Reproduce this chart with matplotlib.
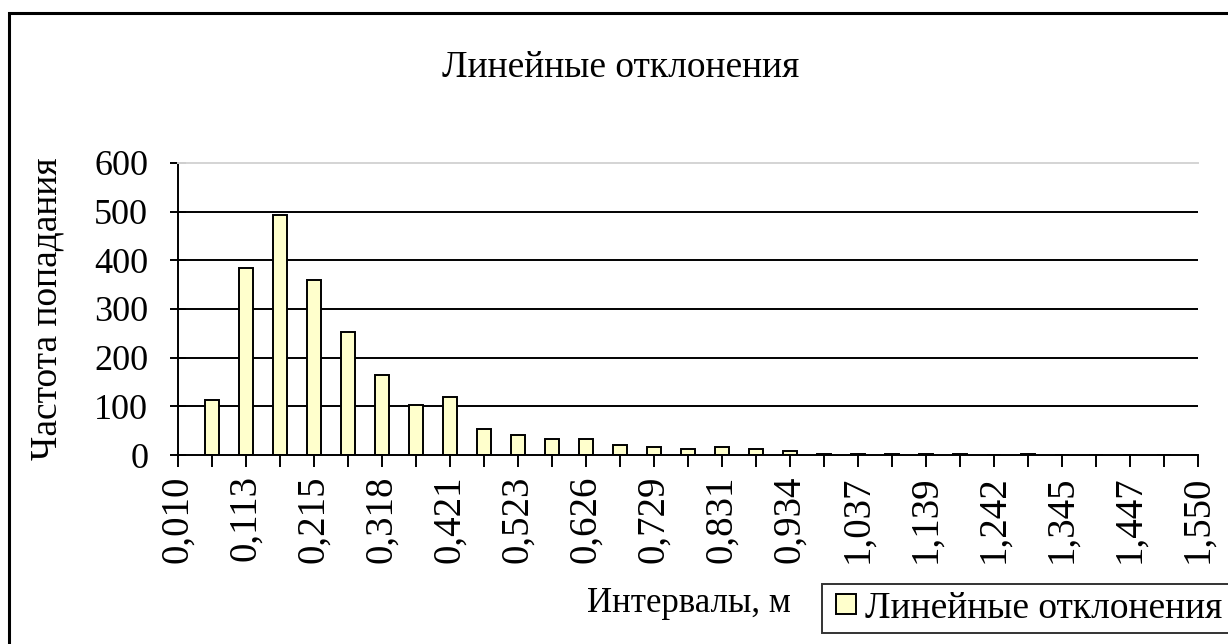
import matplotlib
matplotlib.use("Agg")
import matplotlib.pyplot as plt
import matplotlib.patches as patches
from matplotlib.lines import Line2D
import numpy as np

plt.rcParams['font.family'] = ['Liberation Serif', 'DejaVu Serif']

# данные
freq = [0, 112, 385, 493, 360, 253, 165, 103, 120, 53, 41, 32, 33, 21, 16, 12,
        17, 12, 8, 3, 3, 3, 3, 3, 0, 3, 0, 0, 0, 0, 0]
tick_labels = ['0,010', '0,113', '0,215', '0,318', '0,421', '0,523', '0,626',
               '0,729', '0,831', '0,934', '1,037', '1,139', '1,242', '1,345',
               '1,447', '1,550']
yticks = [0, 100, 200, 300, 400, 500, 600]

title = 'Линейные отклонения'
xlab = 'Интервалы, м'
ylab = 'Частота попадания'

W, H = 1228, 644
fig = plt.figure(figsize=(W / 100, H / 100), dpi=100)
ax = fig.add_axes([178 / W, 1 - 455 / H, (1198 - 178) / W, (455 - 163) / H])

x = np.arange(len(freq))
bars = ax.bar(x, freq, width=0.41, color='#FFFFCC', edgecolor='black',
              linewidth=1.4, label=title, zorder=3)

ax.set_xlim(0, len(freq) - 1)
ax.set_ylim(0, 600)
ax.set_yticks(yticks)
ax.set_yticklabels([str(v) for v in yticks], fontsize=26)
ax.set_xticks(x)
lbls = [''] * len(freq)
lbls[::2] = tick_labels
ax.set_xticklabels(lbls, rotation=90, fontsize=28)

for v in yticks[1:-1]:
    ax.axhline(v, color='black', lw=1.4, zorder=1)

ax.spines['right'].set_visible(False)
ax.spines['top'].set_color('#d4d4d4')
ax.spines['top'].set_linewidth(1.4)
ax.spines['left'].set_linewidth(1.4)
ax.spines['bottom'].set_linewidth(1.4)
ax.spines['bottom'].set_zorder(4)
ax.tick_params(axis='y', direction='inout', length=11, width=1.4, pad=16)
ax.tick_params(axis='x', direction='out', length=8.5, width=1.4, pad=6)

fig.text(621 / W, 1 - 68 / H, title, ha='center', va='center', fontsize=27)
fig.text(47 / W, 1 - 309 / H, ylab, ha='center', va='center', rotation=90, fontsize=27)
fig.text(689 / W, 1 - 604 / H, xlab, ha='center', va='center', fontsize=25)

# маркер легенды
h = Line2D([], [], ls='none', marker='s', markersize=15, markerfacecolor='#FFFFCC',
           markeredgecolor='black', markeredgewidth=1.4)
leg = fig.legend(handles=[h], labels=[title], loc='lower left',
                 bbox_to_anchor=(822 / W, 1 - 633 / H), fontsize=27,
                 frameon=True, fancybox=False, handlelength=0.9,
                 handletextpad=0.05, borderpad=0.2, borderaxespad=0)
leg.get_frame().set_edgecolor('black')
leg.get_frame().set_linewidth(1.4)

# рамка диаграммы
fig.add_artist(patches.Rectangle((9 / W, -0.1), 1.5, 1 - 13 / H + 0.1,
                                 transform=fig.transFigure, fill=False,
                                 edgecolor='black', lw=2.2))

plt.savefig('out.png', dpi=100)
